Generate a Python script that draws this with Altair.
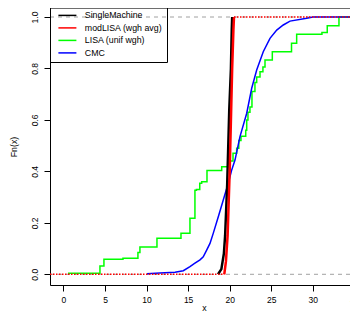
import altair as alt
import pandas as pd

FONT = "Liberation Sans"

SERIES = ["SingleMachine", "modLISA (wgh avg)", "LISA (unif wgh)", "CMC"]
COLORS = ["#000000", "#FF0000", "#00FF00", "#0000FF"]

X_DOMAIN = [-1.62, 35.44]
Y_DOMAIN = [-0.0416, 1.035]
X_TICKS = [0, 5, 10, 15, 20, 25, 30, 35]
Y_TICKS = [0.0, 0.2, 0.4, 0.6, 0.8, 1.0]
REF_LEVELS = [0.0, 1.0]

# SingleMachine (black)
single_x = [18.6, 19.0, 19.3, 19.45, 19.7, 19.95, 20.15, 20.25, 20.3]
single_f = [0.0, 0.02, 0.08, 0.15, 0.35, 0.64, 0.8, 0.95, 1.0]

# modLISA (red)
mod_x = [19.35, 19.55, 19.75, 20.0, 20.15, 20.3, 20.45, 20.52]
mod_f = [0.0, 0.05, 0.15, 0.4, 0.6, 0.8, 0.95, 1.0]

# LISA (green) - step function (value after jump)
lisa_x = [0.54, 4.39, 4.87, 7.16, 8.96, 9.2, 11.25, 14.14, 15.22, 15.82, 16.0,
          16.4, 16.63, 17.27, 19.04, 20.05, 20.4, 20.84, 21.1, 21.36, 21.93,
          22.05, 22.2, 22.44, 22.68, 23.04, 23.25, 23.65, 24.0, 24.25, 25.13,
          27.44, 28.06, 31.1, 31.74, 33.15]
lisa_f = [0.004, 0.032, 0.058, 0.062, 0.085, 0.106, 0.14, 0.16, 0.218, 0.327, 0.33,
          0.354, 0.36, 0.403, 0.418, 0.44, 0.47, 0.49, 0.52, 0.537, 0.56,
          0.6, 0.63, 0.65, 0.71, 0.745, 0.767, 0.787, 0.806, 0.833, 0.865,
          0.898, 0.933, 0.94, 0.966, 1.0]

# CMC (blue)
cmc_x = [10.05, 11.6, 13.42, 14.42, 15.22, 15.82, 16.43, 16.82, 17.23, 17.63,
         18.03, 18.63, 19.23, 19.83, 20.24, 20.64, 21.24, 22.05, 22.65, 23.25,
         24.04, 24.85, 25.66, 26.45, 27.26, 29.27, 30.02]
cmc_f = [0.002, 0.005, 0.008, 0.014, 0.03, 0.043, 0.056, 0.068, 0.094, 0.12,
         0.16, 0.224, 0.289, 0.354, 0.405, 0.444, 0.535, 0.626, 0.723, 0.794,
         0.865, 0.917, 0.949, 0.969, 0.984, 0.995, 1.0]

W, H = 308, 277

xscale = alt.Scale(domain=X_DOMAIN, nice=False, zero=False)
yscale = alt.Scale(domain=Y_DOMAIN, nice=False, zero=False)

xaxis = alt.Axis(values=X_TICKS, title="x", grid=False, tickSize=6, tickColor="black",
                 domainColor="black", domainWidth=1, labelPadding=4, labelFontSize=8.5,
                 labelFont=FONT, labelColor="black", titleFont=FONT, titleFontSize=8.8,
                 titleFontWeight="normal", titleColor="black", titleY=25.5,
                 titleBaseline="alphabetic", labelFlush=False, labelOverlap=False)
yaxis = alt.Axis(values=Y_TICKS, format=".1f", title="Fn(x)", grid=False, tickSize=6,
                 tickColor="black", domainColor="black", domainWidth=1,
                 labelAngle=270, labelAlign="center", labelBaseline="alphabetic",
                 labelPadding=7, labelFontSize=8.5, labelFont=FONT, labelColor="black",
                 titleFont=FONT, titleFontSize=8.8, titleFontWeight="normal",
                 titleColor="black", titleAngle=270, titleX=-37, titleY=138.5,
                 titleBaseline="middle", titleAlign="center", labelFlush=False,
                 labelOverlap=False)

legend = alt.Legend(orient="none", legendX=0, legendY=-1, title=None,
                    symbolType="M0,0H6", symbolSize=36, symbolStrokeWidth=1.5,
                    labelOffset=22, padding=4, strokeColor="black", labelFont=FONT,
                    labelFontSize=8.8, labelColor="black", rowPadding=2.5,
                    cornerRadius=0)
color = alt.Color("series:N", scale=alt.Scale(domain=SERIES, range=COLORS),
                  legend=legend)


def X(field="x"):
    return alt.X(f"{field}:Q", scale=xscale, axis=xaxis)


def Y():
    return alt.Y("F:Q", scale=yscale, axis=yaxis)


def series_df(name, xs, fs, extend=True):
    xs = list(xs)
    fs = list(fs)
    if extend:
        xs = xs + [X_DOMAIN[1]]
        fs = fs + [1.0]
    return pd.DataFrame({"x": xs, "F": fs, "series": name, "i": range(len(xs))})


ref = alt.Chart(pd.DataFrame({"F": REF_LEVELS})).mark_rule(
    color="#A0A0A0", strokeDash=[4, 4], strokeWidth=1).encode(y=Y())

green = alt.Chart(series_df(SERIES[2], lisa_x, lisa_f)).mark_line(
    interpolate="step-after", strokeWidth=1.5, clip=True).encode(
    x=X(), y=Y(), color=color, order="i:Q")
blue = alt.Chart(series_df(SERIES[3], cmc_x, cmc_f)).mark_line(
    strokeWidth=1.5, clip=True).encode(x=X(), y=Y(), color=color, order="i:Q")
black = alt.Chart(series_df(SERIES[0], single_x, single_f, extend=False)).mark_line(
    strokeWidth=2.5, clip=True).encode(x=X(), y=Y(), color=color, order="i:Q")
red = alt.Chart(series_df(SERIES[1], mod_x, mod_f, extend=False)).mark_line(
    strokeWidth=2.5, clip=True).encode(x=X(), y=Y(), color=color, order="i:Q")

red_ext = alt.Chart(pd.DataFrame({
    "x": [X_DOMAIN[0], mod_x[-1]],
    "x2": [mod_x[0], X_DOMAIN[1]],
    "F": [mod_f[0], mod_f[-1]],
})).mark_rule(color="#FF0000", strokeDash=[1.5, 1.5], strokeWidth=1.5, clip=True).encode(
    x=X(), x2="x2:Q", y=Y())

top_line = alt.Chart(pd.DataFrame({"k": [0]})).mark_rule(
    color="black", strokeWidth=1).encode(
    x=alt.value(0), x2=alt.value(W), y=alt.value(0))

chart = alt.layer(ref, green, blue, black, red, red_ext, top_line).properties(
    width=W, height=H,
    padding={"left": 42, "top": 0, "right": -8, "bottom": 27},
    autosize=alt.AutoSizeParams(type="none"),
).configure_view(stroke=None).configure(background="white")

chart.save("out.html", embed_options={"renderer": "svg", "actions": False})
